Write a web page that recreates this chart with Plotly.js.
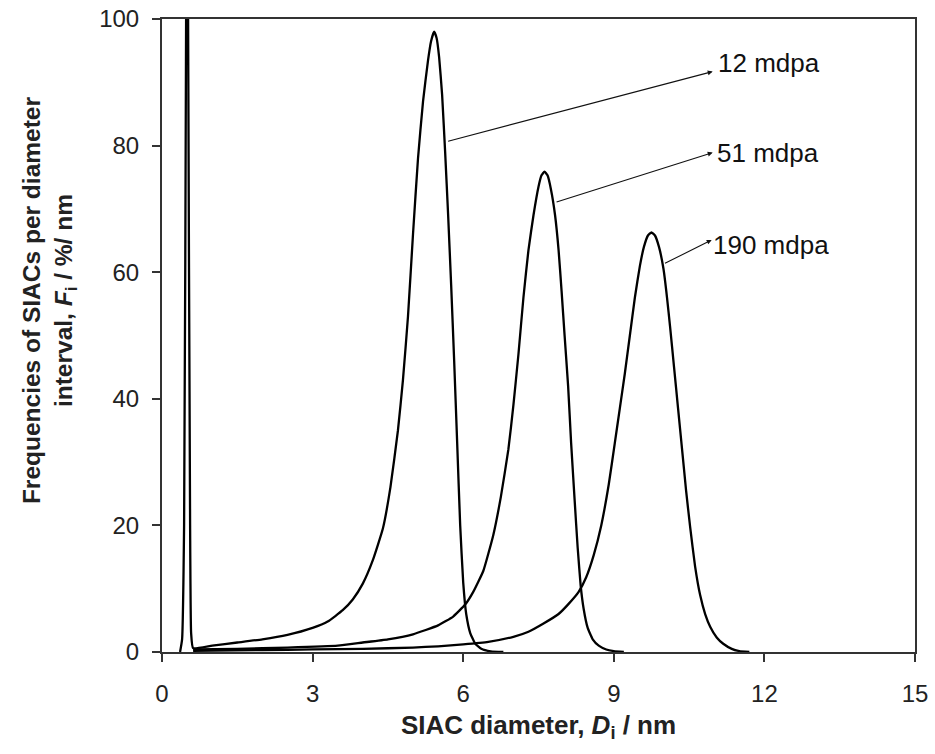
<!DOCTYPE html>
<html>
<head>
<meta charset="utf-8">
<script src="https://cdn.plot.ly/plotly-3.0.1.min.js"></script>
<style>html,body{margin:0;padding:0;background:#fff;}#chart{width:935px;height:754px;}</style>
</head>
<body>
<div id="chart"></div>
<script>
// SIAC diameter (nm) and frequency per diameter interval (%/nm)
const x12 = [0.36,0.40,0.44,0.48,0.50,0.52,0.56,0.58,0.62,1.0,1.5,2.0,2.5,3.0,3.3,3.6,3.8,4.0,4.2,4.4,4.55,4.7,4.8,4.9,5.0,5.1,5.2,5.3,5.36,5.42,5.47,5.52,5.58,5.64,5.70,5.76,5.82,5.88,5.94,6.00,6.06,6.14,6.24,6.36,6.55,6.8];
const y12 = [0,2,20,100,250,100,20,3,0.6,1.0,1.5,2.0,2.7,3.8,4.8,6.6,8.3,10.8,14.5,19.5,26,35,43,53,66,78,87,93.5,96.5,98,97,94,88,79,69,58,46,33,20,11,6,3,1.3,0.5,0.1,0];

const x51 = [0.62,1.5,2.5,3.5,4.0,4.5,5.0,5.5,5.8,6.04,6.2,6.4,6.6,6.75,6.9,7.0,7.1,7.2,7.3,7.4,7.5,7.56,7.62,7.68,7.75,7.83,7.90,7.96,8.02,8.09,8.15,8.22,8.28,8.34,8.40,8.48,8.58,8.7,8.85,9.0,9.2];
const y51 = [0.4,0.5,0.7,1.0,1.5,2.0,2.8,4.2,5.6,7.5,9.5,12.8,18.5,24.5,32,39,47,56,63.5,69,73.5,75.3,75.9,75.3,73,69,63.5,57,50,42,33,24,16.5,10.5,6.8,3.8,2.0,1.0,0.4,0.15,0];

const x190 = [0.62,2.0,3.0,4.0,5.0,5.5,6.0,6.5,7.0,7.3,7.6,7.9,8.1,8.3,8.45,8.6,8.75,8.9,9.02,9.12,9.22,9.32,9.42,9.52,9.60,9.68,9.75,9.82,9.90,9.99,10.06,10.12,10.20,10.28,10.36,10.44,10.52,10.62,10.72,10.82,10.92,11.05,11.18,11.35,11.5,11.7];
const y190 = [0.2,0.3,0.4,0.5,0.7,0.9,1.2,1.6,2.4,3.2,4.5,6.0,7.6,9.5,11.8,15.3,20,26.5,33,38.5,44,50,56,61,64,65.8,66.3,65.8,64,60.5,56,51.5,45,38.5,32,25.5,19.8,13.5,9,6,4,2.3,1.3,0.5,0.15,0];

const xTicks = [0,3,6,9,12,15];
const yTicks = [0,20,40,60,80,100];

const seriesNames = ['12 mdpa','51 mdpa','190 mdpa'];
// callouts: point on the curve, and the arrow head next to the label
const calloutCurveX = [5.70, 7.86, 10.02];
const calloutCurveY = [80.7, 71.1, 61.4];
const calloutHeadX = [10.97, 10.97, 10.95];
const calloutHeadY = [91.7, 78.9, 65.1];

const lineStyle = {color:'#000', width:2.3, shape:'spline', smoothing:0.4};
const traces = [
  {x:x12, y:y12, name:seriesNames[0], mode:'lines', line:lineStyle},
  {x:x51, y:y51, name:seriesNames[1], mode:'lines', line:lineStyle},
  {x:x190, y:y190, name:seriesNames[2], mode:'lines', line:lineStyle}
];

const font = 'Liberation Sans, Arial, Helvetica, sans-serif';
const boxH = [48, 34, 40];
const boxV = ['top', 'middle', 'bottom'];
const boxPad = [4, 3, 0];
const annotations = [];
for (let i=0;i<3;i++){
  annotations.push({x:calloutCurveX[i], y:calloutCurveY[i], ax:calloutHeadX[i], ay:calloutHeadY[i],
    xref:'x', yref:'y', axref:'x', ayref:'y', text:seriesNames[i], showarrow:true,
    arrowside:'start', arrowhead:2, startarrowhead:2, arrowsize:0.9, startarrowsize:0.9,
    arrowwidth:1.1, arrowcolor:'#111', standoff:0, startstandoff:0,
    xanchor:'left', yanchor:'middle', height:boxH[i], valign:boxV[i], borderpad:boxPad[i],
    font:{family:font, size:26, color:'#111'}});
}
// y-axis title (two lines, rotated)
annotations.push({xref:'paper', yref:'paper', x:-0.150, y:0.556, xanchor:'center', yanchor:'middle',
  textangle:-90, showarrow:false,
  text:'<b>Frequencies of SIACs per diameter<br>interval, <i>F</i><sub>i</sub> / %/ nm</b>',
  font:{family:font, size:24.5, color:'#222'}});

const axisCommon = {showline:true, mirror:true, linecolor:'#333', linewidth:2, ticks:'outside', ticklen:8,
  tickwidth:2, tickcolor:'#333', showgrid:false, zeroline:false,
  tickfont:{family:font, size:24, color:'#222'}};

const layout = {
  width:935, height:754,
  margin:{l:162, r:20, t:19, b:102},
  paper_bgcolor:'#fff', plot_bgcolor:'#fff',
  showlegend:false,
  xaxis:Object.assign({}, axisCommon, {range:[0,15], tickvals:xTicks, ticklabelstandoff:11,
    title:{text:'<b>SIAC diameter, <i>D</i><sub>i</sub> / nm</b>', font:{family:font, size:26, color:'#222'}, standoff:10}}),
  yaxis:Object.assign({}, axisCommon, {range:[0,100], tickvals:yTicks, ticklabelstandoff:8}),
  annotations:annotations
};

Plotly.newPlot('chart', traces, layout, {displayModeBar:false, staticPlot:true}).then(function(gd){
  // drop empty placeholder text nodes that Plotly leaves behind
  gd.querySelectorAll('text').forEach(function(t){
    if (!t.textContent || !t.textContent.trim()) t.parentNode.removeChild(t);
  });
});
</script>
</body>
</html>
